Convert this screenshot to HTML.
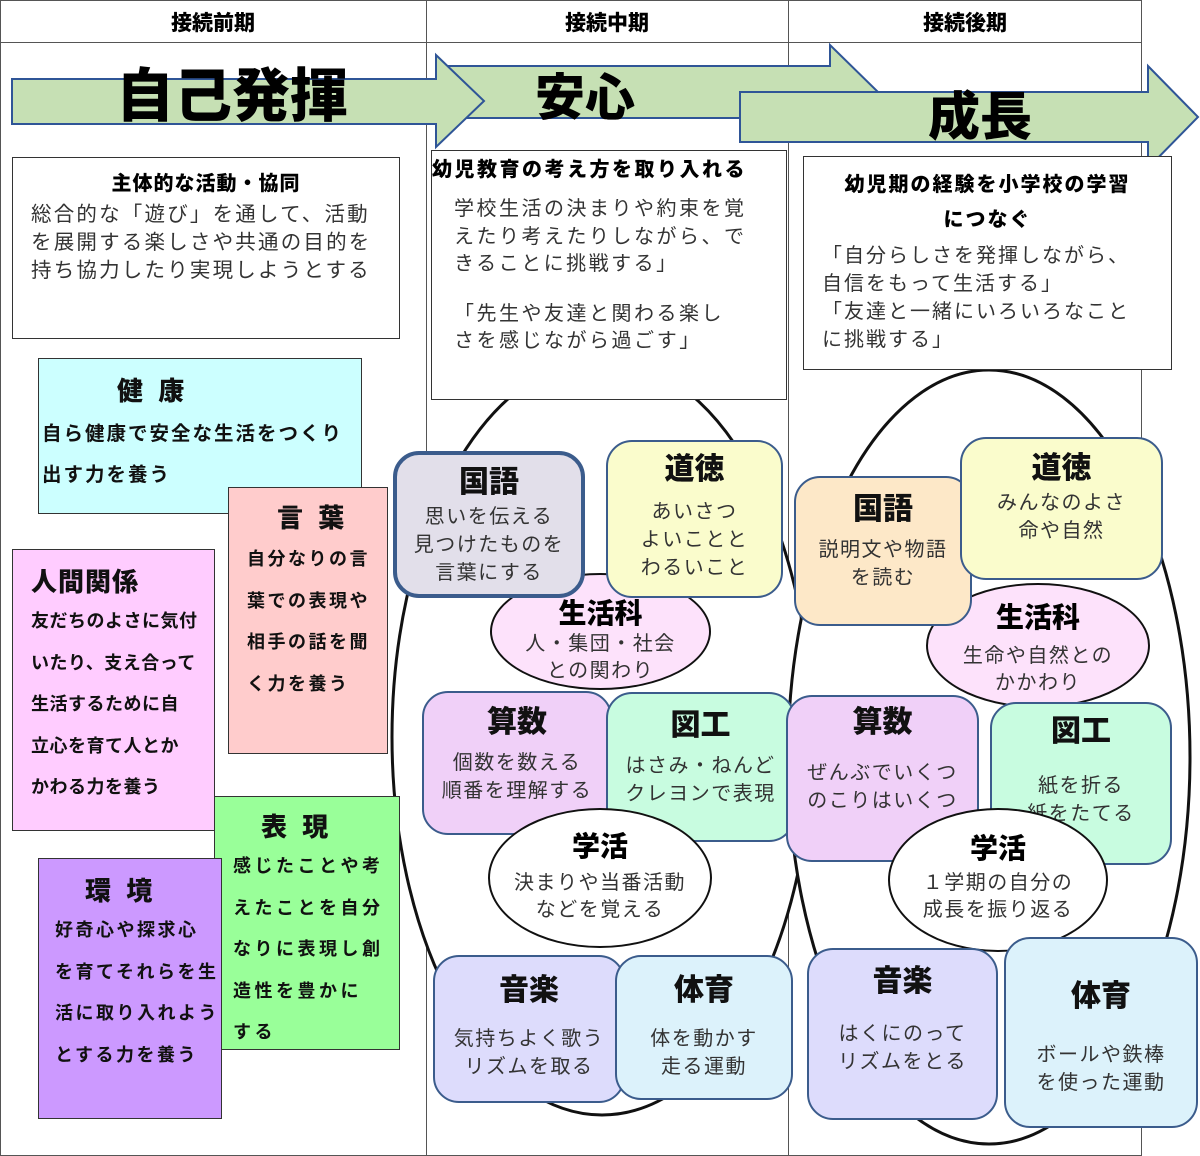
<!DOCTYPE html>
<html><head><meta charset="utf-8"><style>
*{margin:0;padding:0;box-sizing:border-box}
body{width:1200px;height:1156px;position:relative;background:#fff;overflow:hidden;font-family:"Liberation Sans","Noto Sans CJK JP",sans-serif;color:#222}
.a{position:absolute}
.b{position:absolute;border:1.5px solid #333;background:#fff}
.c{text-align:center}
.t{font-weight:900;color:#000}
.s{position:absolute;border:3px solid #3b5c8c;border-radius:26px;text-align:center}
.s .h{font-weight:900;font-size:30px;color:#111;line-height:40px}
.s .p{font-size:20px;line-height:28px;color:#333;letter-spacing:1.5px}
.e{position:absolute;border:2.5px solid #111;border-radius:50%;text-align:center}
.n{position:absolute;border:1.5px solid #333;font-weight:bold;font-size:18px;color:#111}
.n .h{font-size:26px;font-weight:900;letter-spacing:4px}
</style></head><body>
<div class="a" style="left:0;top:0;width:1142px;height:1156px;border:1.5px solid #555"></div>
<div class="a" style="left:0;top:42px;width:1142px;border-top:1.5px solid #555"></div>
<div class="a" style="left:426px;top:0;height:1156px;border-left:1.5px solid #555"></div>
<div class="a" style="left:788px;top:0;height:1156px;border-left:1.5px solid #555"></div>
<div class="a c t" style="left:0;top:7px;width:426px;font-size:21px">接続前期</div>
<div class="a c t" style="left:426px;top:7px;width:362px;font-size:21px">接続中期</div>
<div class="a c t" style="left:788px;top:7px;width:354px;font-size:21px">接続後期</div>
<svg class="a" style="left:0;top:0" width="1200" height="1156">
<g fill="#c6e0b4" stroke="#2f5597" stroke-width="2">
<polygon points="436,66 830,66 830,45 878,92 830,140 830,118 436,118"/>
<polygon points="12,79 436,79 436,55 484,101 436,147 436,124 12,124"/>
<polygon points="740,92 1148,92 1148,66 1198,117 1148,168 1148,142 740,142"/>
</g>
<ellipse cx="602" cy="737" rx="210" ry="378" fill="#fff" stroke="#111" stroke-width="3"/>
<ellipse cx="989" cy="757" rx="201" ry="387" fill="#fff" stroke="#111" stroke-width="3"/>
</svg>
<div class="a c t" style="left:112px;top:62px;width:240px;font-size:58px;line-height:70px">自己発揮</div>
<div class="a c t" style="left:520px;top:68px;width:130px;font-size:50px;line-height:60px">安心</div>
<div class="a c t" style="left:910px;top:88px;width:140px;font-size:52px;line-height:60px">成長</div>
<div class="b" style="left:12px;top:157px;width:388px;height:182px">
<div class="c t" style="margin-top:13px;font-size:20px;line-height:26px;letter-spacing:1px">主体的な活動・協同</div>
<div style="padding-left:18px;margin-top:4px;font-size:20.5px;line-height:28px;letter-spacing:2.2px;color:#333">総合的な「遊び」を通して、活動<br>を展開する楽しさや共通の目的を<br>持ち協力したり実現しようとする</div></div>
<div class="b" style="left:431px;top:150px;width:356px;height:250px">
<div class="t" style="margin-top:6px;font-size:20px;line-height:26px;letter-spacing:2.5px">幼児教育の考え方を取り入れる</div>
<div style="padding-left:22px;margin-top:13px;font-size:20px;line-height:27.5px;letter-spacing:2.5px;color:#333">学校生活の決まりや約束を覚<br>えたり考えたりしながら、で<br>きることに挑戦する」<br><div style="height:22px"></div>「先生や友達と関わる楽し<br>さを感じながら過ごす」</div></div>
<div class="b" style="left:803px;top:156px;width:369px;height:214px">
<div class="c t" style="margin-top:11px;font-size:20px;line-height:35px;letter-spacing:2px">幼児期の経験を小学校の学習<br>につなぐ</div>
<div style="padding-left:18px;margin-top:4px;font-size:20px;line-height:28px;letter-spacing:2px;color:#333">「自分らしさを発揮しながら、<br>自信をもって生活する」<br>「友達と一緒にいろいろなこと<br>に挑戦する」</div></div>
<div class="n" style="left:38px;top:358px;width:324px;height:156px;background:#ccffff">
<div class="h" style="margin:12px 0 0 78px">健 康</div>
<div style="margin:6px 0 0 3px;line-height:41px;font-size:19.5px;letter-spacing:2px">自ら健康で安全な生活をつくり<br>出す力を養う</div></div>
<div class="n" style="left:228px;top:487px;width:160px;height:267px;background:#ffcccc">
<div class="h" style="margin:10px 0 0 48px">言 葉</div>
<div style="margin:4px 0 0 18px;line-height:41.5px;letter-spacing:2.5px">自分なりの言<br>葉での表現や<br>相手の話を聞<br>く力を養う</div></div>
<div class="n" style="left:12px;top:549px;width:203px;height:282px;background:#ffccff">
<div class="h" style="margin:12px 0 0 18px;letter-spacing:1px">人間関係</div>
<div style="margin:2px 0 0 18px;line-height:41.5px;letter-spacing:0.5px">友だちのよさに気付<br>いたり、支え合って<br>生活するために自<br>立心を育て人とか<br>かわる力を養う</div></div>
<div class="n" style="left:214px;top:796px;width:186px;height:254px;background:#99ff99">
<div class="h" style="margin:10px 0 0 46px">表 現</div>
<div style="margin:2px 0 0 18px;line-height:41.5px;letter-spacing:3.5px">感じたことや考<br>えたことを自分<br>なりに表現し創<br>造性を豊かに<br>する</div></div>
<div class="n" style="left:38px;top:858px;width:184px;height:261px;background:#cc99ff">
<div class="h" style="margin:12px 0 0 46px">環 境</div>
<div style="margin:2px 0 0 16px;line-height:41.5px;letter-spacing:2.5px">好奇心や探求心<br>を育てそれらを生<br>活に取り入れよう<br>とする力を養う</div></div>
<div class="e" style="left:490px;top:573px;width:221px;height:117px;background:#fde2fb"><div class="t" style="font-size:28px;line-height:34px;margin-top:22px">生活科</div><div style="font-size:20px;line-height:27px;color:#333;letter-spacing:1.5px">人・集団・社会<br>との関わり</div></div>
<div class="s" style="left:393px;top:451px;width:192px;height:147px;background:#e2dfea;border-width:4px"><div class="h" style="margin-top:8px">国語</div><div class="p">思いを伝える<br>見つけたものを<br>言葉にする</div></div>
<div class="s" style="left:606px;top:440px;width:177px;height:158px;background:#fafccc;border-width:2px"><div class="h" style="margin-top:8px">道徳</div><div class="p" style="margin-top:8px">あいさつ<br>よいことと<br>わるいこと</div></div>
<div class="s" style="left:422px;top:691px;width:190px;height:144px;background:#f0d0f8;border-width:2px"><div class="h" style="margin-top:10px">算数</div><div class="p" style="margin-top:6px">個数を数える<br>順番を理解する</div></div>
<div class="s" style="left:606px;top:692px;width:189px;height:150px;background:#c8fce0;border-width:2px"><div class="h" style="margin-top:12px">図工</div><div class="p" style="margin-top:6px">はさみ・ねんど<br>クレヨンで表現</div></div>
<div class="e" style="left:488px;top:808px;width:224px;height:140px;background:#fff"><div class="t" style="font-size:28px;line-height:34px;margin-top:20px">学活</div><div style="font-size:20px;line-height:27px;color:#333;letter-spacing:1.5px;margin-top:6px">決まりや当番活動<br>などを覚える</div></div>
<div class="s" style="left:433px;top:955px;width:192px;height:148px;background:#dddcfc;border-width:2px"><div class="h" style="margin-top:14px">音楽</div><div class="p" style="margin-top:14px">気持ちよく歌う<br>リズムを取る</div></div>
<div class="s" style="left:615px;top:955px;width:178px;height:145px;background:#dcf2fb;border-width:2px"><div class="h" style="margin-top:14px">体育</div><div class="p" style="margin-top:14px">体を動かす<br>走る運動</div></div>
<div class="e" style="left:926px;top:583px;width:224px;height:125px;background:#fde2fb"><div class="t" style="font-size:28px;line-height:34px;margin-top:16px">生活科</div><div style="font-size:20px;line-height:27px;color:#333;letter-spacing:1.5px;margin-top:8px">生命や自然との<br>かかわり</div></div>
<div class="s" style="left:794px;top:476px;width:178px;height:150px;background:#fde8c8;border-width:2px"><div class="h" style="margin-top:12px">国語</div><div class="p" style="margin-top:6px">説明文や物語<br>を読む</div></div>
<div class="s" style="left:960px;top:437px;width:203px;height:143px;background:#fafccc;border-width:2px"><div class="h" style="margin-top:10px">道徳</div><div class="p">みんなのよさ<br>命や自然</div></div>
<div class="s" style="left:786px;top:695px;width:193px;height:167px;background:#f0d0f8;border-width:2px"><div class="h" style="margin-top:6px">算数</div><div class="p" style="margin-top:16px">ぜんぶでいくつ<br>のこりはいくつ</div></div>
<div class="s" style="left:990px;top:702px;width:182px;height:163px;background:#c8fce0;border-width:2px"><div class="h" style="margin-top:8px">図工</div><div class="p" style="margin-top:20px">紙を折る<br>紙をたてる</div></div>
<div class="e" style="left:888px;top:808px;width:220px;height:144px;background:#fff"><div class="t" style="font-size:28px;line-height:34px;margin-top:22px">学活</div><div style="font-size:20px;line-height:27px;color:#333;letter-spacing:1.5px;margin-top:4px">１学期の自分の<br>成長を振り返る</div></div>
<div class="s" style="left:807px;top:948px;width:191px;height:172px;background:#dddcfc;border-width:2px"><div class="h" style="margin-top:12px">音楽</div><div class="p" style="margin-top:18px">はくにのって<br>リズムをとる</div></div>
<div class="s" style="left:1004px;top:937px;width:194px;height:191px;background:#dcf2fb;border-width:2px"><div class="h" style="margin-top:38px">体育</div><div class="p" style="margin-top:24px">ボールや鉄棒<br>を使った運動</div></div>
</body></html>
